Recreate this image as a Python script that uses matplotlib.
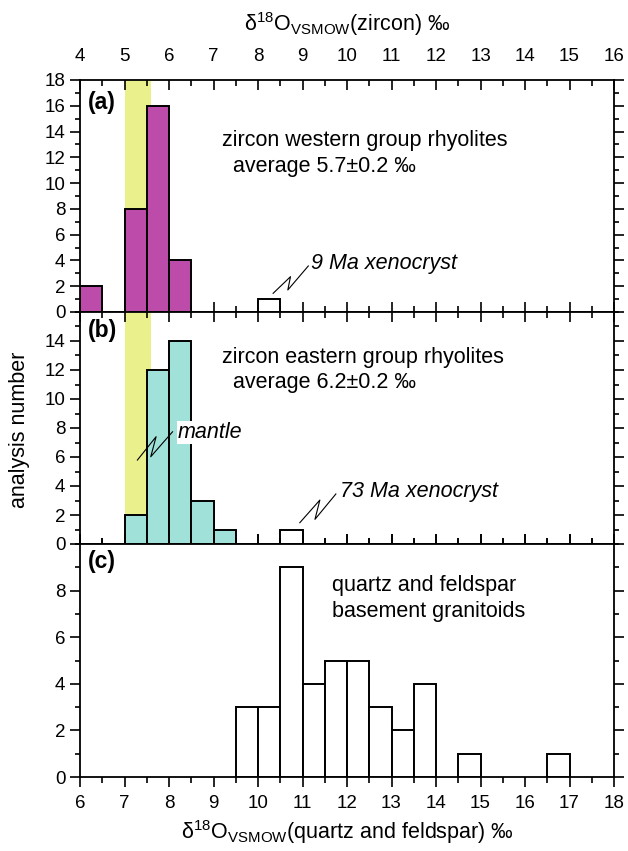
import matplotlib
matplotlib.use("Agg")
import matplotlib.pyplot as plt
from matplotlib.ticker import MultipleLocator

plt.rcParams['font.family'] = ['Liberation Sans', 'DejaVu Sans']
plt.rcParams['mathtext.fontset'] = 'custom'
plt.rcParams['mathtext.rm'] = 'Liberation Sans'
plt.rcParams['mathtext.it'] = 'Liberation Sans:italic'

# panel (a): zircon, western group rhyolites (bin left edges, width 0.5)
west_bins = [4.0, 5.0, 5.5, 6.0]
west_counts = [2, 8, 16, 4]
west_xeno_bin = [8.0]
west_xeno_count = [1]

# panel (b): zircon, eastern group rhyolites
east_bins = [5.0, 5.5, 6.0, 6.5, 7.0]
east_counts = [2, 12, 14, 3, 1]
east_xeno_bin = [8.5]
east_xeno_count = [1]

# panel (c): quartz and feldspar, basement granitoids
qf_bins = [9.5, 10.0, 10.5, 11.0, 11.5, 12.0, 12.5, 13.0, 13.5, 14.5, 16.5]
qf_counts = [3, 3, 9, 4, 5, 5, 3, 2, 4, 1, 1]

mantle_band = (5.0, 5.6)
bin_w = 0.5

fig = plt.figure(figsize=(6.28, 8.51), dpi=100)
L, R = 80 / 628, 614 / 628
tops = [80, 312, 544]
bots = [312, 544, 777]
axes = []
for t, b in zip(tops, bots):
    ax = fig.add_axes([L, 1 - b / 851, R - L, (b - t) / 851])
    axes.append(ax)
ax_a, ax_b, ax_c = axes

TS = 15.5
for ax in axes:
    for s in ax.spines.values():
        s.set_linewidth(1.3)
    ax.tick_params(which='both', labelsize=13.5, width=1.2)
    ax.tick_params(axis='x', which='major', length=7, top=True, bottom=True, direction='in')
    ax.tick_params(axis='x', which='minor', length=4, top=True, bottom=True, direction='in')
    ax.tick_params(axis='y', which='major', length=7, left=True, right=True, direction='out')
    ax.tick_params(axis='y', which='minor', length=3.5, left=True, right=True, direction='out')
    ax.xaxis.set_major_locator(MultipleLocator(1))
    ax.xaxis.set_minor_locator(MultipleLocator(0.5))
    ax.yaxis.set_minor_locator(MultipleLocator(1))

ebar = dict(width=bin_w, align='edge', edgecolor='black', linewidth=1.4, zorder=3)
zz = dict(color='black', lw=0.8, zorder=4)

# (a)
ax_a.axvspan(*mantle_band, color='#EAF08C', zorder=1, lw=0)
ax_a.bar(west_bins, west_counts, color='#BD4BA9', **ebar)
ax_a.bar(west_xeno_bin, west_xeno_count, color='white', **ebar)
ax_a.set_xlim(4, 16)
ax_a.set_ylim(0, 18)
ax_a.yaxis.set_major_locator(MultipleLocator(2))
ax_a.tick_params(axis='x', which='major', labelbottom=False, labeltop=True, pad=11)
ax_a.set_xlabel(r'δ$^{18}$O$_{\mathrm{VSMOW}}$(zircon) ‰', fontsize=TS, labelpad=12)
ax_a.xaxis.set_label_position('top')
ax_a.text(0.015, 0.905, '(a)', transform=ax_a.transAxes, fontsize=16.5, fontweight='bold', va='center')
ax_a.text(0.266, 0.741, 'zircon western group rhyolites', transform=ax_a.transAxes, fontsize=TS, va='center')
ax_a.text(0.287, 0.629, 'average 5.7±0.2 ‰', transform=ax_a.transAxes, fontsize=TS, va='center')
ax_a.plot([8.34, 8.73, 8.67, 9.13], [1.45, 2.74, 1.71, 3.57], **zz)
ax_a.text(9.2, 3.75, '9 Ma xenocryst', fontsize=TS, style='italic', va='center')

# (b)
ax_b.axvspan(*mantle_band, color='#EAF08C', zorder=1, lw=0)
ax_b.bar(east_bins, east_counts, color='#A0E1DA', **ebar)
ax_b.bar(east_xeno_bin, east_xeno_count, color='white', **ebar)
ax_b.set_xlim(4, 16)
ax_b.set_ylim(0, 16)
ax_b.set_yticks(range(0, 15, 2))
ax_b.tick_params(axis='x', labelbottom=False)
ax_b.text(0.015, 0.922, '(b)', transform=ax_b.transAxes, fontsize=16.5, fontweight='bold', va='center')
ax_b.text(0.266, 0.806, 'zircon eastern group rhyolites', transform=ax_b.transAxes, fontsize=TS, va='center')
ax_b.text(0.287, 0.694, 'average 6.2±0.2 ‰', transform=ax_b.transAxes, fontsize=TS, va='center')
ax_b.plot([5.29, 5.71, 5.59, 6.08], [5.79, 7.4, 6.02, 7.74], **zz)
ax_b.text(6.2, 7.68, 'mantle', fontsize=TS, style='italic', va='center', zorder=5,
          bbox=dict(facecolor='white', edgecolor='none', pad=1))
ax_b.plot([8.94, 9.39, 9.28, 9.75], [1.47, 3.03, 1.70, 3.45], **zz)
ax_b.text(9.84, 3.6, '73 Ma xenocryst', fontsize=TS, style='italic', va='center')

# (c)
ax_c.bar(qf_bins, qf_counts, color='white', **ebar)
ax_c.set_xlim(6, 18)
ax_c.set_ylim(0, 10)
ax_c.set_yticks(range(0, 9, 2))
ax_c.tick_params(axis='x', which='both', bottom=True, direction='out')
ax_c.tick_params(axis='x', which='major', pad=6)
ax_c.set_xlabel(r'δ$^{18}$O$_{\mathrm{VSMOW}}$(quartz and feldspar) ‰', fontsize=TS, labelpad=4)
ax_c.text(0.015, 0.923, '(c)', transform=ax_c.transAxes, fontsize=16.5, fontweight='bold', va='center')
ax_c.text(0.471, 0.824, 'quartz and feldspar', transform=ax_c.transAxes, fontsize=TS, va='center')
ax_c.text(0.471, 0.709, 'basement granitoids', transform=ax_c.transAxes, fontsize=TS, va='center')

fig.text(20 / 628, 1 - 430 / 851, 'analysis number', rotation=90, fontsize=TS, va='center', ha='center')

fig.savefig('out.png', dpi=100)
